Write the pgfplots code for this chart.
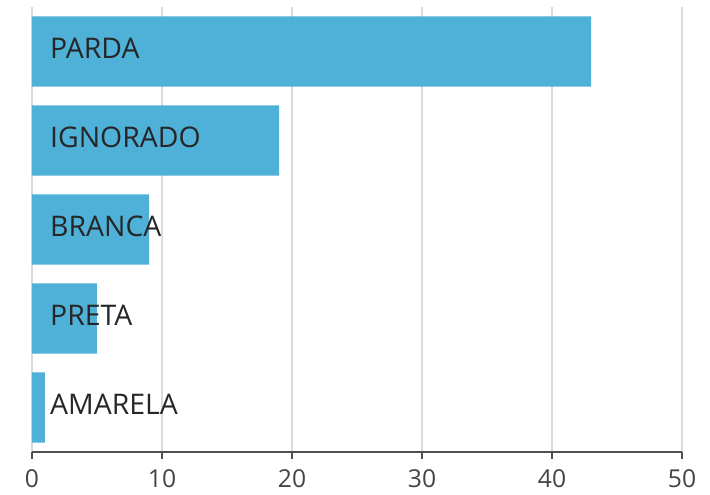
\documentclass[border=0pt]{standalone}
\usepackage{pgfplots}
\pgfplotsset{compat=1.18}
\usepackage{fontspec}
\setmainfont{Open Sans}
\definecolor{barblue}{RGB}{79,176,216}
\definecolor{gridgray}{RGB}{218,218,218}
\definecolor{axisgray}{RGB}{80,80,80}
\definecolor{labelgray}{RGB}{68,68,68}
\begin{document}
\begin{tikzpicture}
\begin{axis}[
  scale only axis,
  width=487.5pt, height=333.75pt,
  xbar, bar width=0.787, bar shift=0pt,
  xmin=0, xmax=50, ymin=-0.5, ymax=4.5,
  axis x line=bottom, axis y line=none,
  x axis line style={-, axisgray, line width=1.2pt},
  xtick={0,10,20,30,40,50},
  tick align=outside, major tick length=5pt,
  x tick style={axisgray, line width=1.2pt},
  xmajorgrids, grid style={gridgray, line width=1.3pt},
  ytick=\empty,
  /pgf/number format/assume math mode=true,
  tick label style={font=\fontsize{18.5}{20}\selectfont, text=labelgray},
  xticklabel style={yshift=-5pt},
  clip=false,
]
\addplot[fill=barblue, draw=none] coordinates {(1,0) (5,1) (9,2) (19,3) (43,4)};
\foreach \y/\t in {0/AMARELA,1/PRETA,2/BRANCA,3/IGNORADO,4/PARDA} {
  \edef\tmp{\noexpand\node[anchor=west, inner sep=0pt, yshift=2.5pt, font=\noexpand\fontsize{21.3}{23}\noexpand\selectfont, text={black!85}] at (axis cs:1.38,\y) {\t};}
  \tmp
}
\end{axis}
\path (current axis.south west) ++(-24pt,-32.25pt) coordinate (bl);
\path (current axis.north east) ++(21pt,5.25pt) coordinate (tr);
\path (bl) rectangle (tr);
\end{tikzpicture}
\end{document}
